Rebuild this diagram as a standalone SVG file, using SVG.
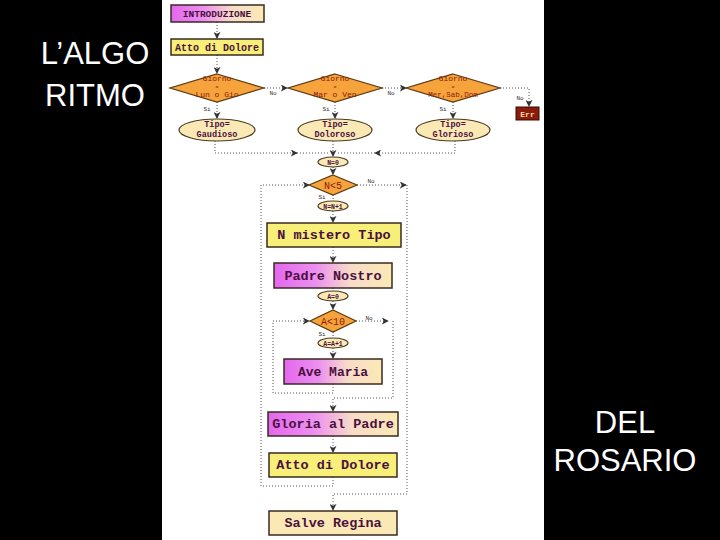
<svg xmlns="http://www.w3.org/2000/svg" width="720" height="540" viewBox="0 0 720 540">
<defs>
<linearGradient id="gm" x1="0" y1="0" x2="1" y2="0">
<stop offset="0" stop-color="#e467ee"/><stop offset="0.35" stop-color="#ec8ff0"/><stop offset="0.65" stop-color="#f8dcc8"/><stop offset="1" stop-color="#fbe9b4"/>
</linearGradient>
<marker id="ar" viewBox="0 0 8 8" refX="7" refY="4" markerWidth="7" markerHeight="7" orient="auto" markerUnits="userSpaceOnUse">
<path d="M0,0 L8,4 L0,8 L2,4 Z" fill="#333"/>
</marker>
<style>
.title{font-family:"Liberation Sans",Arial,sans-serif;font-size:31px;fill:#fff}
.box{stroke:#3a2a20;stroke-width:1.5}
.grad{fill:url(#gm)}
.yel{fill:#f7ef78}
.crm{fill:#fbe9b5}
.dia{fill:#f6a33c;stroke:#5a3a14;stroke-width:1.2}
.ell{fill:#fbe9b5;stroke:#4a3a20;stroke-width:1.2}
.t{font-family:"Liberation Mono","Courier New",monospace;font-weight:bold;fill:#4a1040;text-anchor:middle}
.dt{font-family:"Liberation Mono","Courier New",monospace;fill:#8a1a10;text-anchor:middle}
.lb{font-family:"Liberation Mono","Courier New",monospace;font-size:6px;fill:#333;text-anchor:middle}
.c{fill:none;stroke:#555;stroke-width:1;stroke-dasharray:1 2}
</style>
</defs>
<rect width="720" height="540" fill="#000"/>
<rect x="162" y="0" width="382" height="540" fill="#fff"/>
<text class="title" x="95" y="64" text-anchor="middle">L’ALGO</text>
<text class="title" x="95" y="106" text-anchor="middle">RITMO</text>
<text class="title" x="625" y="433" text-anchor="middle">DEL</text>
<text class="title" x="625" y="471" text-anchor="middle">ROSARIO</text>

<g id="connectors">
<path class="c" d="M217,22 V38" marker-end="url(#ar)"/>
<path class="c" d="M217,55 V73" marker-end="url(#ar)"/>
<path class="c" d="M264,88 H287" marker-end="url(#ar)"/>
<path class="c" d="M382,88 H406" marker-end="url(#ar)"/>
<path class="c" d="M500,88 H529 V106" marker-end="url(#ar)"/>
<path class="c" d="M217,102 V118" marker-end="url(#ar)"/>
<path class="c" d="M335,102 V118" marker-end="url(#ar)"/>
<path class="c" d="M453,102 V118" marker-end="url(#ar)"/>
<path class="c" d="M215,141 V153 H297" marker-end="url(#ar)"/>
<path class="c" d="M297,153 H330"/>
<path class="c" d="M455,141 V153 H375" marker-end="url(#ar)"/>
<path class="c" d="M375,153 H336"/>
<path class="c" d="M333,141 V156" marker-end="url(#ar)"/>
<path class="c" d="M333,167 V174" marker-end="url(#ar)"/>
<path class="c" d="M357,185 H406" marker-end="url(#ar)"/>
<path class="c" d="M407,185 V494 H333 V510" marker-end="url(#ar)"/>
<path class="c" d="M333,195 V200"/>
<path class="c" d="M333,211 V222" marker-end="url(#ar)"/>
<path class="c" d="M333,247 V262" marker-end="url(#ar)"/>
<path class="c" d="M333,288 V291"/>
<path class="c" d="M333,301 V309" marker-end="url(#ar)"/>
<path class="c" d="M356,321 H388" marker-end="url(#ar)"/>
<path class="c" d="M393,321 V398 H333 V411" marker-end="url(#ar)"/>
<path class="c" d="M333,332 V338"/>
<path class="c" d="M333,348 V358" marker-end="url(#ar)"/>
<path class="c" d="M333,384 V393 H273 V321 H309" marker-end="url(#ar)"/>
<path class="c" d="M333,436 V452" marker-end="url(#ar)"/>
<path class="c" d="M333,477 V486 H261 V185 H309" marker-end="url(#ar)"/>
</g>

<g id="lbls">
<text class="lb" x="273" y="95">No</text>
<text class="lb" x="391" y="95">No</text>
<text class="lb" x="520" y="100">No</text>
<text class="lb" x="207" y="111">Si</text>
<text class="lb" x="326" y="111">Si</text>
<text class="lb" x="443" y="111">Si</text>
<text class="lb" x="371" y="183">No</text>
<text class="lb" x="322" y="199">Si</text>
<text class="lb" x="369" y="320">No</text>
<text class="lb" x="322" y="336">Si</text>
</g>

<g id="intro"><rect class="box grad" x="171" y="5" width="93" height="17"/><text class="t" x="217" y="17" font-size="9.5">INTRODUZIONE</text></g>
<g id="atto1"><rect class="box yel" x="171" y="39" width="92" height="16"/><text class="t" x="217" y="51" font-size="10">Atto di Dolore</text></g>

<g id="d1"><polygon class="dia" points="217,74 264,88 217,102 170,88"/>
<text class="dt" x="217" y="81" font-size="8">Giorno</text><text class="dt" x="217" y="88.5" font-size="5">=</text><text class="dt" x="217" y="96.5" font-size="8">Lun o Gio</text></g>
<g id="d2"><polygon class="dia" points="335,74 382,88 335,102 288,88"/>
<text class="dt" x="335" y="81" font-size="8">Giorno</text><text class="dt" x="335" y="88.5" font-size="5">=</text><text class="dt" x="335" y="96.5" font-size="8">Mar o Ven</text></g>
<g id="d3"><polygon class="dia" points="453,74 500,88 453,102 406,88"/>
<text class="dt" x="453" y="81" font-size="8">Giorno</text><text class="dt" x="453" y="88.5" font-size="5">=</text><text class="dt" x="453" y="96.5" font-size="7.5">Mer,Sab,Dom</text></g>
<g id="err"><rect x="516" y="107" width="23" height="13" fill="#8a1c0c" stroke="#3a0a04"/><text x="527.5" y="117" font-family="Liberation Mono,monospace" font-weight="bold" font-size="8" fill="#f5d8a0" text-anchor="middle">Err</text></g>

<g id="e1"><ellipse class="ell" cx="217" cy="130" rx="38" ry="11"/><text class="t" x="217" y="127" font-size="8.5">Tipo=</text><text class="t" x="217" y="137" font-size="8.5">Gaudioso</text></g>
<g id="e2"><ellipse class="ell" cx="335" cy="130" rx="37" ry="11"/><text class="t" x="335" y="127" font-size="8.5">Tipo=</text><text class="t" x="335" y="137" font-size="8.5">Doloroso</text></g>
<g id="e3"><ellipse class="ell" cx="453" cy="130" rx="37" ry="11"/><text class="t" x="453" y="127" font-size="8.5">Tipo=</text><text class="t" x="453" y="137" font-size="8.5">Glorioso</text></g>

<g id="n0"><ellipse class="ell" cx="333" cy="162" rx="15" ry="5"/><text class="t" x="333" y="164.5" font-size="6.5">N=0</text></g>
<g id="n5"><polygon class="dia" points="333,175 357,185 333,195 309,185"/><text class="dt" x="333" y="189" font-size="10">N&lt;5</text></g>
<g id="n1"><ellipse class="ell" cx="333" cy="206" rx="15" ry="5"/><text class="t" x="333" y="208.5" font-size="6.5">N=N+1</text></g>
<g id="mistero"><rect class="box yel" x="267" y="223" width="134" height="24"/><text class="t" x="334" y="239" font-size="13.5">N mistero Tipo</text></g>
<g id="padre"><rect class="box grad" x="274" y="263" width="118" height="25"/><text class="t" x="333" y="280" font-size="13.5">Padre Nostro</text></g>
<g id="a0"><ellipse class="ell" cx="333" cy="296" rx="15" ry="5"/><text class="t" x="333" y="298.5" font-size="6.5">A=0</text></g>
<g id="a10"><polygon class="dia" points="333,310 356,321 333,332 310,321"/><text class="dt" x="333" y="325" font-size="10">A&lt;10</text></g>
<g id="a1"><ellipse class="ell" cx="333" cy="343" rx="15" ry="5"/><text class="t" x="333" y="345.5" font-size="6.5">A=A+1</text></g>
<g id="ave"><rect class="box grad" x="284" y="359" width="98" height="25"/><text class="t" x="333" y="376" font-size="13">Ave Maria</text></g>
<g id="gloria"><rect class="box grad" x="268" y="412" width="130" height="24"/><text class="t" x="333" y="428" font-size="13.5">Gloria al Padre</text></g>
<g id="atto2"><rect class="box yel" x="269" y="453" width="128" height="24"/><text class="t" x="333" y="469" font-size="13.5">Atto di Dolore</text></g>
<g id="salve"><rect class="box crm" x="269" y="511" width="128" height="24"/><text class="t" x="333" y="527" font-size="13.5">Salve Regina</text></g>
</svg>
